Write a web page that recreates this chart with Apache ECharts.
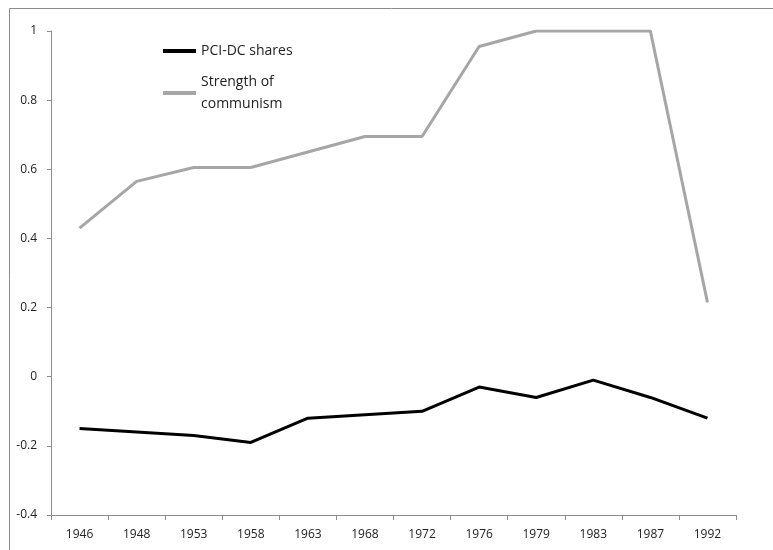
<!DOCTYPE html>
<html>
<head>
<meta charset="utf-8">
<script src="https://cdn.jsdelivr.net/npm/echarts@6/dist/echarts.min.js"></script>
<style>
  html, body { margin: 0; padding: 0; background: #fff; }
  #chart { width: 773px; height: 550px; }
</style>
</head>
<body>
<div id="chart"></div>
<script>
const years = ["1946", "1948", "1953", "1958", "1963", "1968", "1972", "1976", "1979", "1983", "1987", "1992"];
const pciDcShares = [-0.15, -0.16, -0.17, -0.19, -0.12, -0.11, -0.10, -0.03, -0.06, -0.01, -0.06, -0.12];
const strengthOfCommunism = [0.43, 0.565, 0.605, 0.605, 0.65, 0.695, 0.695, 0.955, 1.0, 1.0, 1.0, 0.215];

const axisColor = "#8c8c8c";
const labelFont = "'Open Sans', sans-serif";

const chart = echarts.init(document.getElementById("chart"));

chart.setOption({
  backgroundColor: "#fff",
  animation: false,
  graphic: [
    {
      // outer frame, cut off at right and bottom like the reference
      type: "rect",
      shape: { x: 9.5, y: 8.5, width: 800, height: 600 },
      style: { fill: "none", stroke: axisColor, lineWidth: 1 },
      silent: true,
    },
  ],
  grid: { left: 51, right: 37, top: 31, bottom: 35 },
  legend: {
    orient: "vertical",
    left: 158,
    top: 35,
    itemWidth: 33,
    itemHeight: 4,
    itemGap: 9,
    icon: "rect",
    textStyle: { fontFamily: labelFont, fontSize: 14, color: "#222", lineHeight: 22 },
    data: [
      { name: "PCI-DC shares" },
      { name: "Strength of\ncommunism" },
    ],
  },
  xAxis: {
    type: "category",
    data: years,
    boundaryGap: true,
    axisLine: { onZero: false, lineStyle: { color: axisColor, width: 1 } },
    axisTick: { show: true, length: 5, lineStyle: { color: axisColor } },
    axisLabel: { color: "#222", fontFamily: labelFont, fontSize: 12, margin: 14 },
    splitLine: { show: false },
  },
  yAxis: {
    type: "value",
    min: -0.4,
    max: 1,
    interval: 0.2,
    axisLine: { show: true, lineStyle: { color: axisColor, width: 1 } },
    axisTick: { show: true, length: 4, lineStyle: { color: axisColor } },
    axisLabel: { color: "#222", fontFamily: labelFont, fontSize: 12, margin: 14 },
    splitLine: { show: false },
  },
  series: [
    {
      name: "PCI-DC shares",
      type: "line",
      data: pciDcShares,
      showSymbol: false,
      symbol: "none",
      lineStyle: { color: "#000", width: 3 },
      itemStyle: { color: "#000" },
    },
    {
      name: "Strength of\ncommunism",
      type: "line",
      data: strengthOfCommunism,
      showSymbol: false,
      symbol: "none",
      lineStyle: { color: "#a6a6a6", width: 3 },
      itemStyle: { color: "#a6a6a6" },
    },
  ],
});
</script>
</body>
</html>
